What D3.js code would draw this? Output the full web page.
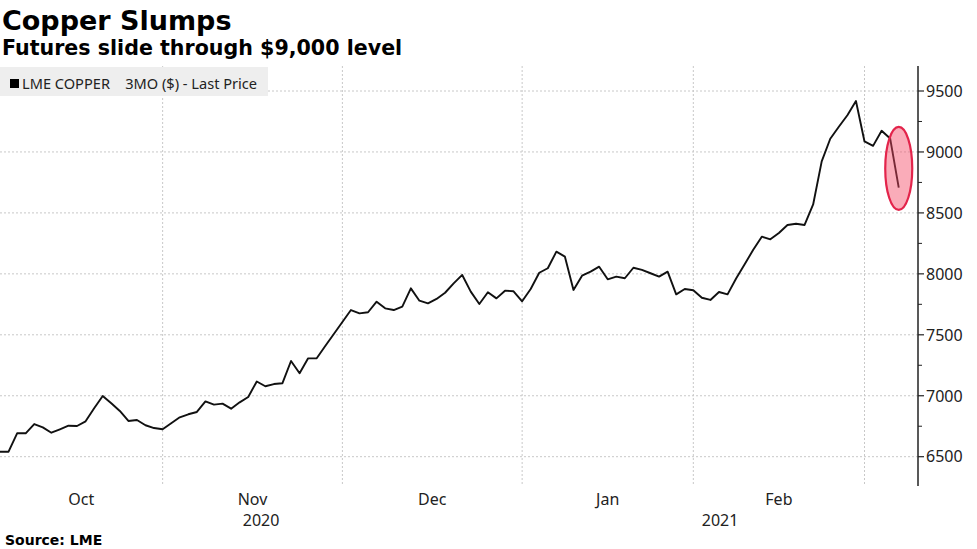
<!DOCTYPE html>
<html>
<head>
<meta charset="utf-8">
<script src="https://cdn.jsdelivr.net/npm/d3@7/dist/d3.min.js"></script>
<style>
  html, body { margin: 0; padding: 0; background: #fff; }
  svg { display: block; }
</style>
</head>
<body>
<svg id="chart" width="977" height="549"></svg>
<script>
// ---- DATA ----
const title = "Copper Slumps";
const subtitle = "Futures slide through $9,000 level";
const source = "Source: LME";
const legendLabel = "LME COPPER    3MO ($) - Last Price";

// LME copper 3M, daily closes (trading days), Oct 2020 – early Mar 2021
const prices = [
  6541, 6541, 6692, 6692, 6768, 6741, 6697, 6725, 6754, 6752,
  6790, 6897, 6998, 6938, 6875, 6793, 6801, 6758, 6735, 6725,
  6774, 6823, 6848, 6867, 6954, 6927, 6935, 6894, 6946, 6990,
  7117, 7078, 7096, 7103, 7285, 7184, 7307, 7307, 7408, 7507,
  7605, 7703, 7676, 7685, 7772, 7717, 7703, 7731, 7881, 7780,
  7758, 7794, 7845, 7922, 7991, 7854, 7753, 7849, 7799, 7862,
  7857, 7775, 7876, 8009, 8046, 8182, 8141, 7868, 7985, 8018,
  8059, 7955, 7977, 7964, 8050, 8032, 8005, 7977, 8018, 7832,
  7876, 7865, 7804, 7786, 7851, 7832, 7962, 8078, 8198, 8305,
  8283, 8335, 8401, 8411, 8401, 8569, 8923, 9108, 9207, 9301,
  9418, 9086, 9050, 9174, 9110, 8707
];

// month boundaries (index of first trading day in month) and labels
const monthStarts = [19, 40, 61, 81, 101];
const monthLabels = [
  { label: "Oct", from: 0,  to: 19 },
  { label: "Nov", from: 19, to: 40 },
  { label: "Dec", from: 40, to: 61 },
  { label: "Jan", from: 61, to: 81 },
  { label: "Feb", from: 81, to: 101 }
];
const yearLabels = [
  { label: "2020", from: 0,  to: 61 },
  { label: "2021", from: 61, to: 107.25 }
];
const yTicks = [6500, 7000, 7500, 8000, 8500, 9000, 9500];
const yMinorTicks = [6250, 6750, 7250, 7750, 8250, 8750, 9250, 9750];
const highlight = { index: 105, value: 8865 };

// ---- LAYOUT ----
const svg = d3.select("#chart");
const plotLeft = 0, plotRight = 918, plotTop = 66, plotBottom = 486;

const x = d3.scaleLinear().domain([0, 107.25]).range([plotLeft, plotRight]);
const y = d3.scaleLinear().domain([6500, 9500]).range([456.7, 91]);

// gridlines
const grid = svg.append("g");
grid.selectAll("line.h").data(yTicks).join("line")
  .attr("x1", plotLeft).attr("x2", plotRight)
  .attr("y1", d => y(d)).attr("y2", d => y(d))
  .attr("stroke", "#c8c8c8").attr("stroke-width", 1)
  .attr("stroke-dasharray", "2,2");
grid.selectAll("line.v").data(monthStarts).join("line")
  .attr("x1", d => x(d)).attr("x2", d => x(d))
  .attr("y1", plotTop).attr("y2", plotBottom)
  .attr("stroke", "#c8c8c8").attr("stroke-width", 1)
  .attr("stroke-dasharray", "2,2");

// legend box
const lg = svg.append("g");
lg.append("rect").attr("x", 0).attr("y", 67).attr("width", 268).attr("height", 29)
  .attr("fill", "#eeeeee");
lg.append("rect").attr("x", 10).attr("y", 79).attr("width", 9).attr("height", 9)
  .attr("fill", "#000");
lg.append("text").attr("x", 22).attr("y", 88.5)
  .attr("font-family", "'Noto Sans', sans-serif").attr("font-size", 14.6)
  .attr("fill", "#222").attr("xml:space", "preserve")
  .style("white-space", "pre")
  .text(legendLabel);

// line
const line = d3.line().x((d, i) => x(i)).y(d => y(d));
svg.append("path").datum(prices)
  .attr("d", line)
  .attr("fill", "none").attr("stroke", "#111")
  .attr("stroke-width", 1.9).attr("stroke-linejoin", "round");

// highlight ellipse
svg.append("ellipse")
  .attr("cx", x(highlight.index)).attr("cy", y(highlight.value))
  .attr("rx", 13.5).attr("ry", 41.5)
  .attr("fill", "rgba(244, 70, 100, 0.45)")
  .attr("stroke", "#e3244b").attr("stroke-width", 2.2);

// right axis
const axisG = svg.append("g").attr("transform", `translate(${plotRight},0)`);
axisG.append("line").attr("x1", 0).attr("x2", 0).attr("y1", plotTop).attr("y2", plotBottom)
  .attr("stroke", "#222").attr("stroke-width", 1.5);
axisG.selectAll("line.major").data(yTicks).join("line")
  .attr("x1", 0).attr("x2", 6).attr("y1", d => y(d)).attr("y2", d => y(d))
  .attr("stroke", "#222").attr("stroke-width", 1.2);
axisG.selectAll("line.minor").data(yMinorTicks.filter(d => y(d) > plotTop && y(d) < plotBottom)).join("line")
  .attr("x1", 0).attr("x2", 4).attr("y1", d => y(d)).attr("y2", d => y(d))
  .attr("stroke", "#222").attr("stroke-width", 1);
axisG.selectAll("text").data(yTicks).join("text")
  .attr("x", 8).attr("y", d => y(d)).attr("dy", "0.36em")
  .attr("font-family", "'Noto Sans', sans-serif").attr("font-size", 16)
  .attr("fill", "#222")
  .text(d => d);

// month labels
svg.append("g").selectAll("text").data(monthLabels).join("text")
  .attr("x", d => x((d.from + d.to) / 2)).attr("y", 505)
  .attr("text-anchor", "middle")
  .attr("font-family", "'Noto Sans', sans-serif").attr("font-size", 16)
  .attr("fill", "#222")
  .text(d => d.label);
svg.append("g").selectAll("text").data(yearLabels).join("text")
  .attr("x", d => x((d.from + d.to) / 2)).attr("y", 526)
  .attr("text-anchor", "middle")
  .attr("font-family", "'Noto Sans', sans-serif").attr("font-size", 16)
  .attr("fill", "#222")
  .text(d => d.label);

// titles
svg.append("text").attr("x", 2).attr("y", 29.5)
  .attr("font-family", "'DejaVu Sans', sans-serif").attr("font-weight", "bold")
  .attr("font-size", 27).attr("fill", "#000").text(title);
svg.append("text").attr("x", 2).attr("y", 55)
  .attr("font-family", "'DejaVu Sans', sans-serif").attr("font-weight", "bold")
  .attr("font-size", 20.6).attr("fill", "#000").text(subtitle);
svg.append("text").attr("x", 5).attr("y", 545)
  .attr("font-family", "'DejaVu Sans', sans-serif").attr("font-weight", "bold")
  .attr("font-size", 14).attr("fill", "#000").text(source);
</script>
</body>
</html>
